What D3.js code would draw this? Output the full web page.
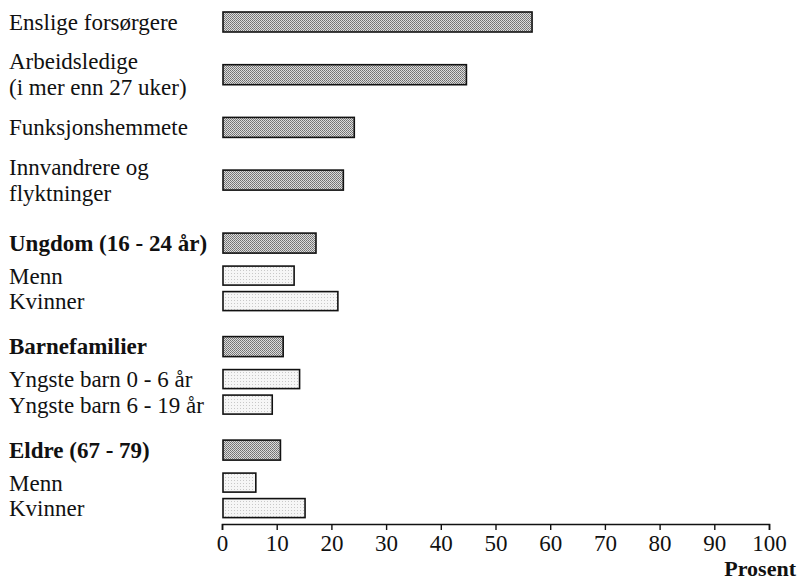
<!DOCTYPE html>
<html><head><meta charset="utf-8">
<script src="https://cdn.jsdelivr.net/npm/d3@7"></script>
<style>body{margin:0;background:#fff}svg{display:block}</style>
</head><body>
<script>
const categories = ["Enslige forsørgere","Arbeidsledige\n(i mer enn 27 uker)","Funksjonshemmete","Innvandrere og\nflyktninger","Ungdom (16 - 24 år)","Menn","Kvinner","Barnefamilier","Yngste barn 0 - 6 år","Yngste barn 6 - 19 år","Eldre (67 - 79)","Menn","Kvinner"];
const values = [56.5, 44.5, 24, 22, 17, 13, 21, 11, 14, 9, 10.5, 6, 15];
const kinds = ["main","main","main","main","group","sub","sub","group","sub","sub","group","sub","sub"];
const tickValues = [0,10,20,30,40,50,60,70,80,90,100];
const axisTitle = "Prosent";

const W = 801, H = 581;
const svg = d3.select("body").append("svg").attr("width", W).attr("height", H);
const defs = svg.append("defs");
const pd = defs.append("pattern").attr("id","dark").attr("width",2).attr("height",2).attr("patternUnits","userSpaceOnUse");
pd.append("rect").attr("width",2).attr("height",2).attr("fill","#dcdcdc");
pd.append("rect").attr("width",1).attr("height",1).attr("fill","#707070");
pd.append("rect").attr("x",1).attr("y",1).attr("width",1).attr("height",1).attr("fill","#808080");
const pl = defs.append("pattern").attr("id","light").attr("width",3).attr("height",3).attr("patternUnits","userSpaceOnUse");
pl.append("rect").attr("width",3).attr("height",3).attr("fill","#f6f6f6");
pl.append("rect").attr("width",1).attr("height",1).attr("fill","#c8c8c8");

const x = d3.scaleLinear().domain([0,100]).range([222, 769]);

// vertical layout from row kinds
const gap = {"main>main":52.7,"main>group":63,"group>sub":33,"sub>sub":25.5,"sub>group":45};
const ys = [];
kinds.forEach((k,i)=>{ ys.push(i===0 ? 22 : ys[i-1] + gap[kinds[i-1]+">"+k]); });
const barH = 20;
const font = "Liberation Serif";
const fs = 23;

const rows = svg.append("g");
rows.selectAll("rect").data(values).join("rect")
  .attr("x", x(0)+1)
  .attr("y", (d,i)=>ys[i]-barH/2)
  .attr("width", d=>x(d)-x(0))
  .attr("height", (d,i)=> kinds[i]==="sub" ? barH-1 : barH)
  .attr("fill", (d,i)=> kinds[i]==="sub" ? "url(#light)" : "url(#dark)")
  .attr("stroke","#111").attr("stroke-width",1.6);

const lab = svg.append("g").attr("font-family", font).attr("font-size", fs).attr("fill","#111");
categories.forEach((c,i)=>{
  const lines = c.split("\n");
  const lh = 25.8;
  lines.forEach((ln,j)=>{
    lab.append("text").attr("x", 9)
      .attr("font-weight", kinds[i]==="group" ? "bold" : "normal")
      .attr("y", ys[i] + 7.5 + (j - (lines.length-1)/2)*lh)
      .text(ln);
  });
});

const axisY = 524;
const ax = svg.append("g").attr("transform",`translate(0,${axisY})`)
  .call(d3.axisBottom(x).tickValues(tickValues).tickSize(6).tickSizeOuter(6).tickPadding(4.5));
ax.select(".domain").attr("stroke","#111").attr("stroke-width",1.6);
ax.selectAll(".tick line").attr("stroke","#111").attr("stroke-width",1.4);
ax.selectAll(".tick text").attr("font-family",font).attr("font-size",fs).attr("fill","#111");

svg.append("text").attr("x",796).attr("y",576).attr("text-anchor","end")
  .attr("font-family",font).attr("font-size",22).attr("font-weight","bold").attr("fill","#111")
  .text(axisTitle);
</script>
</body></html>
